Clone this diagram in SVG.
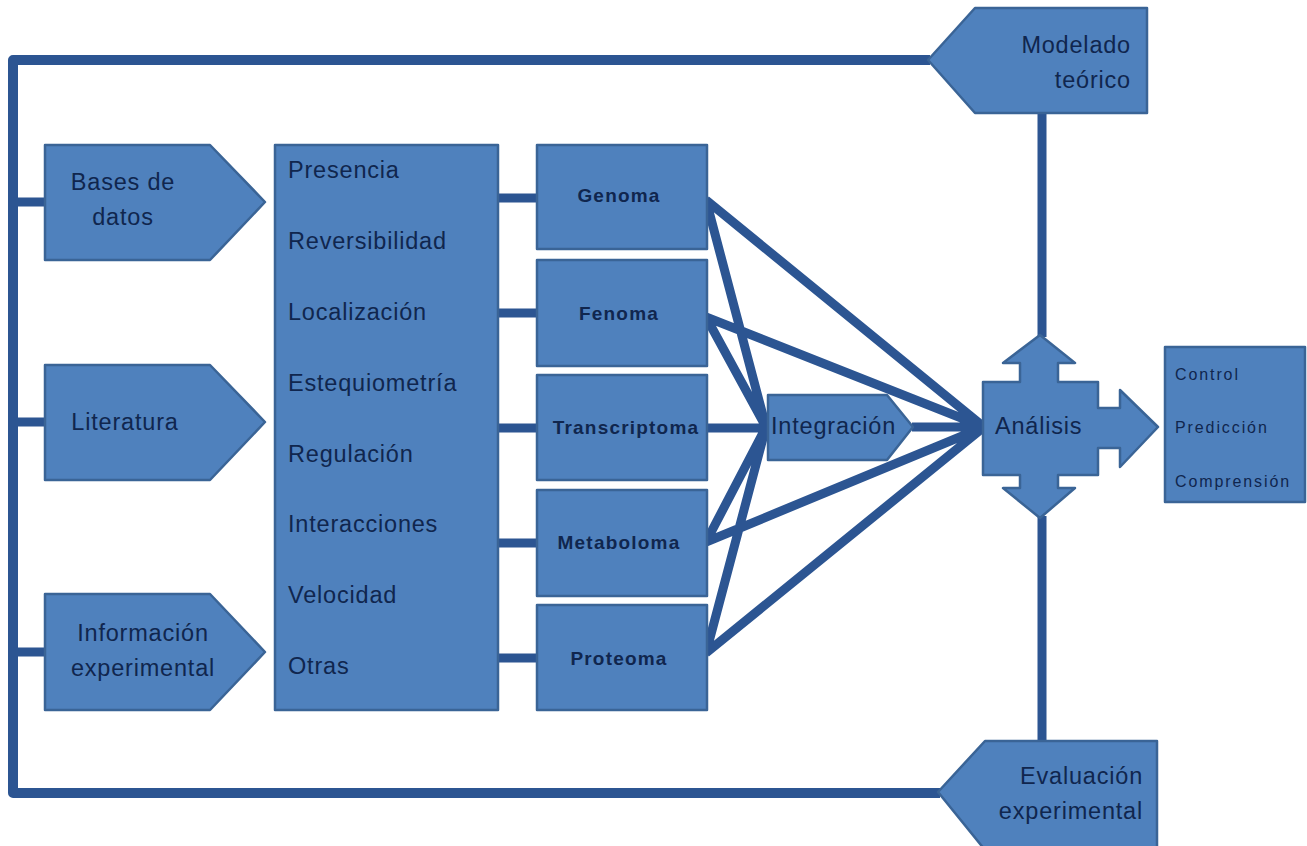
<svg xmlns="http://www.w3.org/2000/svg" width="1307" height="846" viewBox="0 0 1307 846">
<style>
.n{fill:#4f81bd;stroke:#3a6496;stroke-width:2.5;stroke-linejoin:round}
.t{font-family:"Liberation Sans",Arial,sans-serif;font-size:23.5px;fill:#10264e;letter-spacing:0.8px}
.b{font-family:"Liberation Sans",Arial,sans-serif;font-size:19px;font-weight:bold;fill:#10264e;text-anchor:middle;letter-spacing:1.2px}
.s{font-family:"Liberation Sans",Arial,sans-serif;font-size:16px;fill:#10264e;letter-spacing:1.9px}
.c{fill:none;stroke:#2c5592;stroke-width:10;stroke-linejoin:round}
.l{fill:none;stroke:#2c5592;stroke-width:9;stroke-linecap:butt}
</style>
<rect width="1307" height="846" fill="#ffffff"/>
<g id="connectors">
<path class="c" d="M930 60 H13 V793 H940"/>
<path class="l" d="M13 202 H46 M13 422 H46 M13 652 H46"/>
<path class="l" d="M497 198 H538 M497 313 H538 M497 428 H538 M497 543 H538 M497 658 H538"/>
<path class="l" d="M1042 112 V337 M1042 516 V742"/>
<path class="l" d="M706 200 L984 427 M706 200 L766 427 M706 317 L984 427 M706 317 L766 427 M706 428 H768 M706 542 L984 427 M706 542 L766 427 M706 653 L984 427 M706 653 L766 427 M912 427 H984"/>
</g>
<g id="modelado">
<polygon class="n" points="928,60 975,8 1147,8 1147,113 975,113"/>
<text class="t" text-anchor="end" x="1131" y="53">Modelado</text>
<text class="t" text-anchor="end" x="1131" y="88">teórico</text>
</g>
<g id="evaluacion">
<polygon class="n" points="938,792 985,741 1157,741 1157,850 985,850"/>
<text class="t" text-anchor="end" x="1143" y="784">Evaluación</text>
<text class="t" text-anchor="end" x="1143" y="819">experimental</text>
</g>
<g id="bases">
<polygon class="n" points="45,145 210,145 265,202 210,260 45,260"/>
<text class="t" text-anchor="middle" x="123" y="190">Bases de</text>
<text class="t" text-anchor="middle" x="123" y="225">datos</text>
</g>
<g id="literatura">
<polygon class="n" points="45,365 210,365 265,422 210,480 45,480"/>
<text class="t" text-anchor="middle" x="125" y="430">Literatura</text>
</g>
<g id="informacion">
<polygon class="n" points="45,594 210,594 265,652 210,710 45,710"/>
<text class="t" text-anchor="middle" x="143" y="641">Información</text>
<text class="t" text-anchor="middle" x="143" y="676">experimental</text>
</g>
<g id="propiedades">
<rect class="n" x="275" y="145" width="223" height="565"/>
<text class="t" x="288" y="178">Presencia</text>
<text class="t" x="288" y="249">Reversibilidad</text>
<text class="t" x="288" y="320">Localización</text>
<text class="t" x="288" y="391">Estequiometría</text>
<text class="t" x="288" y="462">Regulación</text>
<text class="t" x="288" y="532">Interacciones</text>
<text class="t" x="288" y="603">Velocidad</text>
<text class="t" x="288" y="674">Otras</text>
</g>
<g id="genoma">
<rect class="n" x="537" y="145" width="170" height="104"/>
<text class="b" x="619" y="202">Genoma</text>
</g>
<g id="fenoma">
<rect class="n" x="537" y="260" width="170" height="106"/>
<text class="b" x="619" y="320">Fenoma</text>
</g>
<g id="transcriptoma">
<rect class="n" x="537" y="375" width="170" height="105"/>
<text class="b" x="626" y="434">Transcriptoma</text>
</g>
<g id="metaboloma">
<rect class="n" x="537" y="490" width="170" height="106"/>
<text class="b" x="619" y="549">Metaboloma</text>
</g>
<g id="proteoma">
<rect class="n" x="537" y="605" width="170" height="105"/>
<text class="b" x="619" y="665">Proteoma</text>
</g>
<g id="integracion">
<polygon class="n" points="768,395 887,395 913,427 887,460 768,460"/>
<text class="t" x="771" y="434">Integración</text>
</g>
<g id="analisis">
<polygon class="n" points="1040,335 1075,363 1058,363 1058,382 1098,382 1098,408 1120,408 1120,390 1158,427 1120,467 1120,448 1098,448 1098,475 1058,475 1058,488 1075,488 1040,518 1003,488 1020,488 1020,475 983,475 983,382 1020,382 1020,363 1003,363"/>
<text class="t" x="995" y="434">Análisis</text>
</g>
<g id="resultados">
<rect class="n" x="1165" y="347" width="140" height="155"/>
<text class="s" x="1175" y="380">Control</text>
<text class="s" x="1175" y="433">Predicción</text>
<text class="s" x="1175" y="487">Comprensión</text>
</g>
</svg>
